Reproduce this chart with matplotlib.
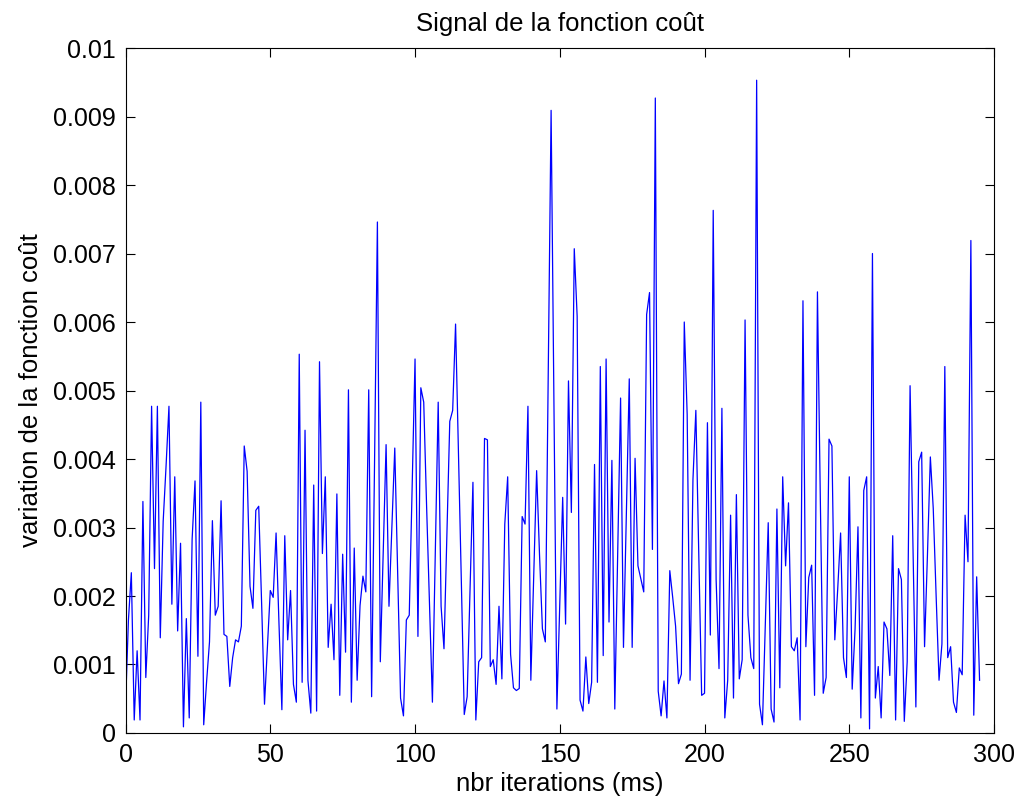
import matplotlib
matplotlib.use("Agg")
import matplotlib.pyplot as plt
import numpy as np

# Cost-function variation per iteration (values in units of 1e-3)
cost_variation_milli = [
    0.40, 1.65, 2.34, 0.19, 1.20, 0.19, 3.38, 0.81, 1.72, 4.77,
    2.40, 4.77, 1.39, 3.09, 3.90, 4.77, 1.88, 3.74, 1.49, 2.77,
    0.09, 1.67, 0.22, 2.83, 3.68, 1.12, 4.83, 0.12, 0.75, 1.33,
    3.10, 1.72, 1.85, 3.39, 1.44, 1.41, 0.68, 1.10, 1.36, 1.33,
    1.56, 4.19, 3.82, 2.14, 1.82, 3.25, 3.31, 1.90, 0.42, 1.26,
    2.08, 1.98, 2.92, 1.60, 0.34, 2.88, 1.36, 2.08, 0.71, 0.45,
    5.53, 0.74, 4.42, 0.77, 0.29, 3.62, 0.32, 5.42, 2.62, 3.74,
    1.25, 1.88, 1.07, 3.49, 0.55, 2.61, 1.18, 5.01, 0.45, 2.70,
    0.77, 1.86, 2.29, 2.06, 5.01, 0.53, 3.90, 7.46, 1.04, 2.60,
    4.21, 1.85, 3.00, 4.16, 2.30, 0.51, 0.25, 1.65, 1.72, 3.60,
    5.46, 1.41, 5.04, 4.83, 3.30, 1.90, 0.45, 2.60, 4.83, 1.85,
    1.23, 2.90, 4.55, 4.71, 5.97, 4.10, 2.20, 0.27, 0.53, 2.10,
    3.66, 0.19, 1.04, 1.10, 4.30, 4.28, 0.97, 1.07, 0.71, 1.85,
    0.79, 3.05, 3.74, 1.15, 0.66, 0.62, 0.65, 3.16, 3.05, 4.77,
    0.77, 2.30, 3.83, 2.60, 1.52, 1.33, 5.20, 9.09, 4.70, 0.35,
    1.90, 3.44, 1.59, 5.14, 3.22, 7.07, 6.08, 0.48, 0.32, 1.11,
    0.43, 0.74, 3.92, 0.74, 5.35, 1.13, 5.46, 1.62, 3.98, 0.35,
    2.60, 4.89, 1.25, 3.20, 5.17, 1.25, 4.01, 2.44, 2.25, 2.06,
    6.11, 6.43, 2.68, 9.27, 0.61, 0.25, 0.76, 0.22, 2.37, 1.98,
    1.56, 0.72, 0.86, 6.00, 4.65, 0.77, 3.70, 4.71, 2.60, 0.55,
    0.58, 4.53, 1.43, 7.63, 2.24, 0.94, 4.74, 0.22, 0.77, 3.18,
    0.51, 3.48, 0.79, 1.07, 6.03, 1.72, 1.10, 0.94, 9.53, 0.42,
    0.12, 1.60, 3.07, 0.35, 0.16, 3.27, 0.66, 3.74, 2.44, 3.36,
    1.26, 1.20, 1.39, 0.19, 6.31, 1.26, 2.27, 2.45, 0.55, 6.44,
    3.40, 0.58, 0.81, 4.29, 4.19, 1.36, 2.10, 2.92, 1.10, 0.81,
    3.74, 0.64, 1.52, 3.01, 0.22, 3.54, 3.74, 0.06, 7.00, 0.51,
    0.97, 0.22, 1.62, 1.52, 0.84, 2.88, 0.19, 2.40, 2.24, 0.17,
    1.04, 5.07, 2.70, 0.38, 3.96, 4.10, 1.26, 2.60, 4.03, 3.28,
    2.00, 0.77, 1.30, 5.35, 1.10, 1.26, 0.45, 0.30, 0.95, 0.85,
    3.18, 2.50, 7.19, 0.26, 2.28, 0.77,
]

x_ticks = [0, 50, 100, 150, 200, 250, 300]
x_tick_labels = ["0", "50", "100", "150", "200", "250", "300"]
y_ticks = [0, 0.001, 0.002, 0.003, 0.004, 0.005, 0.006, 0.007, 0.008, 0.009, 0.01]
y_tick_labels = ["0", "0.001", "0.002", "0.003", "0.004", "0.005",
                 "0.006", "0.007", "0.008", "0.009", "0.01"]

title_text = "Signal de la fonction coût"
x_label = "nbr iterations (ms)"
y_label = "variation de la fonction coût"

values = np.array(cost_variation_milli) * 1e-3
iterations = np.arange(len(values))

plt.rcParams["font.family"] = ["Liberation Sans", "DejaVu Sans"]

fig = plt.figure(figsize=(10.19, 8.07), dpi=100)
ax = fig.add_axes([0.1232, 0.0917, 0.9755 - 0.1232, 0.9405 - 0.0917])

ax.plot(iterations, values, color=(0, 0, 1), linewidth=0.9)

ax.set_xlim(0, 300)
ax.set_ylim(0, 0.01)
ax.set_xticks(x_ticks)
ax.set_xticklabels(x_tick_labels)
ax.set_yticks(y_ticks)
ax.set_yticklabels(y_tick_labels)

ax.tick_params(direction="in", length=6.3, width=0.8, top=True, right=True,
               labelsize=18, colors="black", pad=7)
for side in ax.spines.values():
    side.set_linewidth(0.8)
    side.set_color("black")

ax.set_title(title_text, fontsize=18.5, pad=12)
ax.set_xlabel(x_label, fontsize=18.5, labelpad=4)
ax.set_ylabel(y_label, fontsize=18.5, labelpad=7)

fig.savefig("out.png", dpi=100, facecolor="white")
